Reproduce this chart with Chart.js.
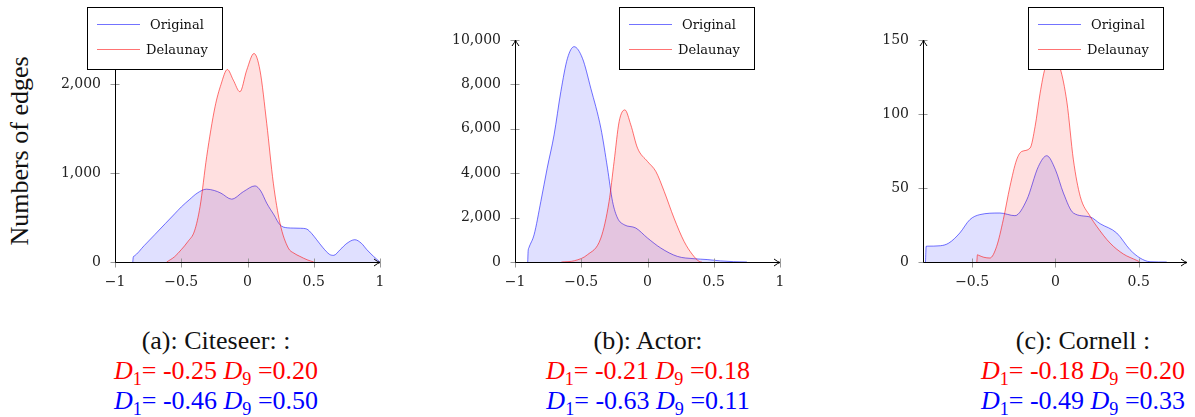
<!DOCTYPE html>
<html>
<head>
<meta charset="utf-8">
<script src="https://cdn.jsdelivr.net/npm/chart.js@4.4.1/dist/chart.umd.min.js"></script>
<style>
  body { margin: 0; width: 1195px; height: 417px; overflow: hidden; background: #fff; position: relative; }
  canvas { position: absolute; top: 0; }
  .ylab { position: absolute; left: 20px; top: 151px; transform: translate(-50%, -50%) rotate(-90deg);
          font: 26px "Liberation Serif", serif; white-space: nowrap; color: #111; }
  .cap { position: absolute; top: 326px; transform: translateX(-50%); text-align: center; white-space: nowrap;
         font: 26px/30px "Liberation Serif", serif; color: #111; }
  .cap sub { font-size: 0.7em; line-height: 0; }
  .r { color: #ff0000; }
  .b { color: #0000ff; }
</style>
</head>
<body>
<div class="ylab">Numbers of edges</div>
<canvas id="c1" width="365" height="300" style="left:35px"></canvas>
<canvas id="c2" width="365" height="300" style="left:435px"></canvas>
<canvas id="c3" width="352" height="300" style="left:843px"></canvas>

<div class="cap" style="left:216px">(a): Citeseer: :<br>
  <span class="r"><i>D</i><sub>1</sub>= -0.25 <i>D</i><sub>9</sub> =0.20</span><br>
  <span class="b"><i>D</i><sub>1</sub>= -0.46 <i>D</i><sub>9</sub> =0.50</span></div>
<div class="cap" style="left:648px">(b): Actor:<br>
  <span class="r"><i>D</i><sub>1</sub>= -0.21 <i>D</i><sub>9</sub> =0.18</span><br>
  <span class="b"><i>D</i><sub>1</sub>= -0.63 <i>D</i><sub>9</sub> =0.11</span></div>
<div class="cap" style="left:1083px">(c): Cornell :<br>
  <span class="r"><i>D</i><sub>1</sub>= -0.18 <i>D</i><sub>9</sub> =0.20</span><br>
  <span class="b"><i>D</i><sub>1</sub>= -0.49 <i>D</i><sub>9</sub> =0.33</span></div>

<script>
// Citeseer
const citeseerOrigX = [-0.866, -0.862, -0.855, -0.78, -0.7, -0.62, -0.55, -0.5, -0.44, -0.38, -0.31, -0.25, -0.2, -0.12, -0.03, 0.057, 0.1, 0.145, 0.2, 0.245, 0.3, 0.35, 0.4, 0.447, 0.485, 0.522, 0.57, 0.62, 0.65, 0.7, 0.75, 0.81, 0.86, 0.9, 0.95, 1.0];
const citeseerOrigY = [0, 56, 67, 184, 308, 433, 542, 620, 700, 775, 820, 805, 775, 708, 793, 857, 800, 663, 530, 419, 385, 382, 380, 371, 320, 251, 160, 85, 75, 140, 210, 251, 210, 140, 65, 0];
const citeseerDelX = [-0.61, -0.55, -0.5, -0.45, -0.4, -0.358, -0.308, -0.245, -0.2, -0.152, -0.107, -0.057, -0.006, 0.049, 0.094, 0.145, 0.195, 0.245, 0.308, 0.35, 0.396, 0.45, 0.5];
const citeseerDelY = [0, 60, 139, 230, 350, 625, 1187, 1748, 2000, 2168, 2048, 1917, 2160, 2348, 2160, 1562, 888, 438, 157, 100, 63, 25, 0];
const citeseerXTicks = [-1, -0.5, 0, 0.5, 1];
const citeseerYTicks = [0, 1000, 2000];

// Actor
const actorOrigX = [-0.904, -0.901, -0.895, -0.856, -0.805, -0.757, -0.705, -0.654, -0.604, -0.554, -0.491, -0.428, -0.352, -0.302, -0.264, -0.226, -0.176, -0.088, 0, 0.1, 0.226, 0.352, 0.45, 0.55, 0.65, 0.75];
const actorOrigY = [0, 477, 640, 1228, 2727, 4228, 5727, 7676, 9177, 9699, 9177, 7827, 6028, 4228, 2727, 1979, 1678, 1529, 1080, 630, 252, 148, 110, 50, 15, 0];
const actorDelX = [-0.65, -0.55, -0.453, -0.352, -0.29, -0.252, -0.214, -0.171, -0.126, -0.075, 0, 0.063, 0.126, 0.2, 0.276, 0.34, 0.39, 0.41];
const actorDelY = [0, 60, 328, 1080, 2727, 4528, 6327, 6852, 6177, 5128, 4528, 4078, 3178, 1979, 928, 328, 27, 0];
const actorXTicks = [-1, -0.5, 0, 0.5, 1];
const actorYTicks = [0, 2000, 4000, 6000, 8000, 10000];

// Cornell
const cornellOrigX = [-0.78, -0.776, -0.77, -0.69, -0.64, -0.574, -0.514, -0.454, -0.333, -0.243, -0.172, -0.102, -0.052, 0, 0.048, 0.108, 0.209, 0.268, 0.368, 0.448, 0.508, 0.568, 0.668];
const cornellOrigY = [0, 10.6, 10.7, 11, 12.8, 19.6, 28.6, 32, 33.1, 31.3, 42, 64.6, 71.8, 62.4, 46.6, 33.1, 30.4, 25.9, 19.6, 8.3, 2.7, 0.2, 0];
const cornellDelX = [-0.472, -0.468, -0.462, -0.43, -0.393, -0.353, -0.313, -0.273, -0.233, -0.202, -0.152, -0.122, -0.092, -0.062, -0.02, 0.028, 0.069, 0.108, 0.149, 0.209, 0.248, 0.328, 0.408, 0.488, 0.508];
const cornellDelY = [0, 4.9, 4.6, 3.2, 2.7, 10.5, 28.6, 51, 69, 74.7, 77, 91.6, 114, 131, 140, 131, 108, 69, 44.3, 30.8, 24.1, 12.8, 5.4, 1.1, 0];
const cornellXTicks = [-0.5, 0, 0.5];
const cornellYTicks = [0, 50, 100, 150];

const seriesNames = ['Original', 'Delaunay'];

const tickFont = { family: '"DejaVu Serif", serif', size: 14 };

// pgfplots style axes: lines with arrows, ticks crossing the axis
const pgfAxes = {
  id: 'pgfAxes',
  afterDatasetsDraw(chart) {
    const { ctx, chartArea: a, scales: { x, y } } = chart;
    const l = Math.round(a.left) + 0.5, b = Math.round(a.bottom) + 0.5;
    const r = a.right, t = a.top;
    ctx.save();
    ctx.lineWidth = 1;
    ctx.strokeStyle = '#999';
    ctx.beginPath();
    x.ticks.forEach(tk => {
      const px = Math.round(x.getPixelForValue(tk.value)) + 0.5;
      ctx.moveTo(px, b - 4); ctx.lineTo(px, b + 5);
    });
    y.ticks.forEach(tk => {
      const py = Math.round(y.getPixelForValue(tk.value)) + 0.5;
      ctx.moveTo(l - 5, py); ctx.lineTo(l + 4, py);
    });
    ctx.stroke();
    ctx.strokeStyle = '#000';
    ctx.beginPath();
    ctx.moveTo(l, b); ctx.lineTo(r, b);
    ctx.moveTo(l, b); ctx.lineTo(l, t);
    ctx.moveTo(r - 6, b - 3.5); ctx.quadraticCurveTo(r - 2, b - 0.5, r, b); ctx.quadraticCurveTo(r - 2, b + 0.5, r - 6, b + 3.5);
    ctx.moveTo(l - 3.5, t + 6); ctx.quadraticCurveTo(l - 0.5, t + 2, l, t); ctx.quadraticCurveTo(l + 0.5, t + 2, l + 3.5, t + 6);
    ctx.stroke();
    ctx.restore();
  }
};

const boxLegend = {
  id: 'boxLegend',
  afterDraw(chart, args, opts) {
    const ctx = chart.ctx;
    const x = opts.x, y = opts.y, w = 135, h = 62;
    ctx.save();
    ctx.fillStyle = '#fff';
    ctx.fillRect(x, y, w, h);
    ctx.strokeStyle = '#000';
    ctx.lineWidth = 1;
    ctx.strokeRect(x + 0.5, y + 0.5, w, h);
    ctx.font = '13px "DejaVu Serif", serif';
    ctx.textAlign = 'center';
    ctx.textBaseline = 'middle';
    chart.data.datasets.forEach((ds, i) => {
      const ly = y + 17.5 + i * 25;
      ctx.strokeStyle = ds.borderColor;
      ctx.beginPath(); ctx.moveTo(x + 10, ly); ctx.lineTo(x + 53, ly); ctx.stroke();
      ctx.fillStyle = '#111';
      ctx.fillText(ds.label, x + 90, ly + 1);
    });
    ctx.restore();
  }
};

function pts(xs, ys) {
  return xs.map((x, i) => ({ x: x, y: ys[i] }));
}

function makeChart(id, origX, origY, delX, delY, xMin, xMax, yMax, xTicks, yTicks, legendX, padRight) {
  return new Chart(document.getElementById(id), {
    type: 'line',
    data: {
      datasets: [{
        label: seriesNames[0],
        data: pts(origX, origY),
        borderColor: 'rgba(0, 0, 255, 0.55)',
        backgroundColor: 'rgba(0, 0, 255, 0.12)',
        fill: 'origin',
        order: 1
      }, {
        label: seriesNames[1],
        data: pts(delX, delY),
        borderColor: 'rgba(255, 0, 0, 0.55)',
        backgroundColor: 'rgba(255, 0, 0, 0.12)',
        fill: 'origin',
        order: 0
      }]
    },
    options: {
      responsive: false,
      animation: false,
      devicePixelRatio: 1,
      layout: { padding: { top: 40, right: padRight, bottom: 8, left: 0 } },
      elements: {
        point: { radius: 0 },
        line: { borderWidth: 1, cubicInterpolationMode: 'monotone' }
      },
      scales: {
        x: {
          type: 'linear', min: xMin, max: xMax,
          grid: { display: false, drawTicks: false },
          border: { display: false },
          afterBuildTicks: s => { s.ticks = xTicks.map(v => ({ value: v })); },
          afterFit: s => { s.height = 30; },
          ticks: {
            font: tickFont, color: '#222', padding: 12, maxRotation: 0,
            callback: v => v < 0 ? '\u2212' + Math.abs(v) : String(v)
          }
        },
        y: {
          min: 0, max: yMax,
          grid: { display: false, drawTicks: false },
          border: { display: false },
          afterBuildTicks: s => { s.ticks = yTicks.map(v => ({ value: v })); },
          afterFit: s => { s.width = 80; },
          ticks: {
            font: tickFont, color: '#222', padding: 14,
            callback: v => v.toLocaleString('en-US')
          }
        }
      },
      plugins: {
        legend: { display: false },
        tooltip: { enabled: false },
        boxLegend: { x: legendX, y: 7 }
      }
    },
    plugins: [pgfAxes, boxLegend]
  });
}

makeChart('c1', citeseerOrigX, citeseerOrigY, citeseerDelX, citeseerDelY, -1, 1, 2500, citeseerXTicks, citeseerYTicks, 52, 20);
makeChart('c2', actorOrigX, actorOrigY, actorDelX, actorDelY, -1, 1, 10000, actorXTicks, actorYTicks, 184, 20);
makeChart('c3', cornellOrigX, cornellOrigY, cornellDelX, cornellDelY, -0.795, 0.79, 150, cornellXTicks, cornellYTicks, 185, 8);
</script>
</body>
</html>
